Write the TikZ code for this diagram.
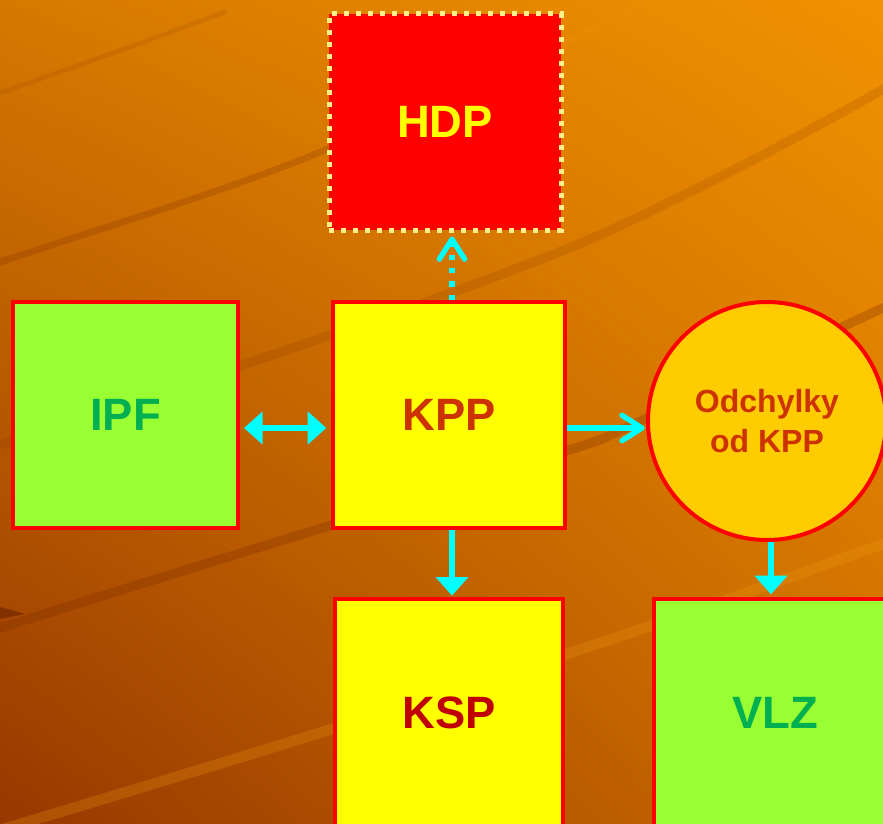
\documentclass[tikz,border=0pt]{standalone}
\usepackage{fontspec}
\setmainfont{Liberation Sans}
\usetikzlibrary{arrows.meta, shadings}

\definecolor{bgtl}{HTML}{D67800}
\definecolor{bgtr}{HTML}{F29200}
\definecolor{bgbl}{HTML}{963800}
\definecolor{bgbr}{HTML}{CC6C00}
\definecolor{boxline}{HTML}{FF0000}
\definecolor{kppfill}{HTML}{FFFF00}
\definecolor{greenfill}{HTML}{99FF33}
\definecolor{greentext}{HTML}{00B050}
\definecolor{kpptext}{HTML}{CC3300}
\definecolor{ksptext}{HTML}{C00000}
\definecolor{odchfill}{HTML}{FFCC00}
\definecolor{hdpdot}{HTML}{FFF08C}
\definecolor{linkcol}{HTML}{00FFFF}
\definecolor{swdark}{HTML}{7A2A00}
\definecolor{swlight}{HTML}{F29A10}

\begin{document}
\begin{tikzpicture}[x=0.75pt, y=-0.75pt,
  box/.style={draw=boxline, line width=3pt, rectangle, font=\bfseries\fontsize{34}{40}\selectfont},
  flow/.style={draw=linkcol, line width=4.25pt, -{Triangle[length=14pt, width=24pt]}},
  barb/.style={draw=linkcol, line width=4pt, -{Straight Barb[length=15pt, width=19pt, round]}},
  swoosh/.style={line cap=round, opacity=0.22}]
\useasboundingbox (0,0) rectangle (883,824);

% background
\shade[upper left=bgtl, upper right=bgtr, lower left=bgbl, lower right=bgbr] (0,0) rectangle (883,824);
\begin{scope}
\clip (0,0) rectangle (883,824);
\draw[swoosh, swdark, line width=3.5pt, opacity=0.12] (0,93) .. controls (80,65) and (150,40) .. (225,12);
\draw[swoosh, swdark, line width=5pt] (0,262) .. controls (120,222) and (230,190) .. (330,148) -- (520,70);
\draw[swoosh, swdark, line width=7pt, opacity=0.15] (0,445) .. controls (150,395) and (450,300) .. (600,235) .. controls (720,180) and (820,125) .. (900,80);
\draw[swoosh, swdark, line width=7pt, opacity=0.28] (0,628) .. controls (150,580) and (450,490) .. (600,440) -- (900,300);
\draw[swoosh, swlight, line width=8pt, opacity=0.25] (0,830) .. controls (200,770) and (500,680) .. (740,595) -- (900,538);
\draw[swoosh, swlight, line width=4pt, opacity=0.15] (560,45) -- (650,0);
\fill[swdark, opacity=0.8] (0,607) -- (25,614) -- (0,619) -- cycle;
\end{scope}

% blocks
\node[box, fill=red, draw=hdpdot, line width=3.75pt, dash pattern=on 3.75pt off 5.25pt, minimum width=174pt, minimum height=162pt, text=kppfill] (hdp) at (445,122) {HDP};
\node[box, fill=kppfill, minimum width=174pt, minimum height=169.5pt, text=kpptext] (kpp) at (449,415) {KPP};
\node[box, fill=greenfill, minimum width=168.75pt, minimum height=169.5pt, text=greentext] (ipf) at (125.5,415) {IPF};
\node[draw=boxline, line width=3pt, circle, fill=odchfill, minimum size=178.5pt, inner sep=0pt, align=center, text=kpptext, font=\bfseries\fontsize{24}{30}\selectfont] (odch) at (767,421) {Odchylky\\od KPP};
\node[box, fill=kppfill, minimum width=171pt, minimum height=171pt, text=ksptext] (ksp) at (449,713) {KSP};
\node[box, fill=greenfill, minimum width=181.5pt, minimum height=171pt, text=greentext] (vlz) at (775,713) {VLZ};

% links
\draw[barb, dash pattern=on 4pt off 6pt, shorten >=3pt] ([xshift=2.25pt]kpp.north) -- ([xshift=2.25pt]kpp.north |- hdp.south);
\draw[flow, {Triangle[length=14pt, width=24pt]}-{Triangle[length=14pt, width=24pt]}, shorten <=3pt, shorten >=3.5pt] ([yshift=-9.75pt]ipf.east) -- ([yshift=-9.75pt]kpp.west);
\draw[barb, shorten >=1pt] ([yshift=-9.75pt]kpp.east) -- ([yshift=-9.75pt]kpp.east -| odch.west);
\draw[flow, shorten >=1pt] ([xshift=2.25pt]kpp.south) -- ([xshift=2.25pt]kpp.south |- ksp.north);
\draw[flow, shorten >=2pt] ([xshift=3pt]odch.south) -- ([xshift=3pt]odch.south |- vlz.north);
\end{tikzpicture}
\end{document}
